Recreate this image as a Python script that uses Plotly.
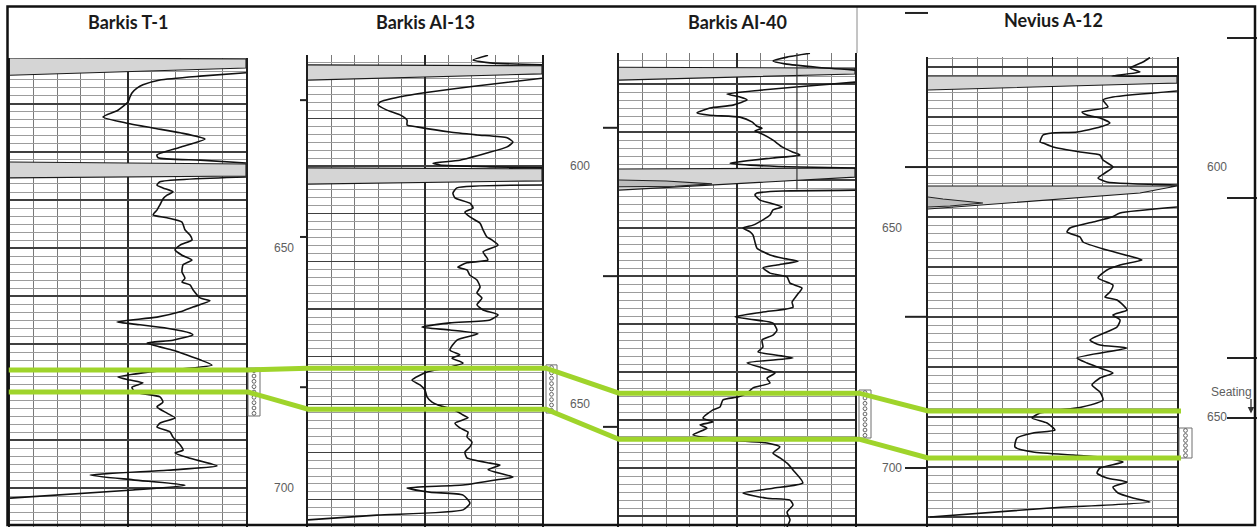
import plotly.graph_objects as go

W, H = 1257, 527

well_names = ["Barkis T-1", "Barkis AI-13", "Barkis AI-40", "Nevius A-12"]

# ---------------- Barkis T-1 (GR API, depth ft) ----------------
t1_gr_top = []
t1_depth_top = []
t1_gr_a = [150, 120.8, 95.3, 84.5, 80.7, 77.5, 76.3, 75.0, 68.6, 59.1,
           74.4, 90.9, 108.1, 123.9, 108.1, 93.4, 94.1, 120.8, 150]
t1_depth_a = [613.5, 614.2, 615.0, 616.0, 616.7, 617.7, 618.5, 619.6, 621.3, 622.7,
              624.0, 625.0, 626.0, 627.3, 629.0, 630.6, 631.2, 631.7, 632.3]
t1_gr_b = [150, 95.3, 93.4, 97.2, 103.6, 99.8, 97.2, 95.3, 93.4, 90.9,
           99.8, 109.3, 111.2, 114.4, 115.7, 108.1, 104.9, 109.3, 115.7, 110.0,
           109.3, 111.2, 109.3, 114.4, 116.3, 120.8, 127.1, 116.3, 108.1, 93.4,
           68.0, 82.6, 99.8, 114.4, 116.3, 103.6, 87.1, 95.3, 103.6, 112.5,
           120.8, 128.4, 89.0, 68.6, 76.3, 84.5, 77.5, 79.5, 95.3, 97.2,
           93.4, 99.8, 104.9, 95.3, 93.4, 101.7, 103.6, 108.1, 110.0, 104.9,
           114.4, 131.6, 99.8, 50.8, 78.2, 111.2, 78.2, 0]
t1_depth_b = [635.2, 636.2, 636.9, 637.5, 638.3, 639.0, 639.8, 641.0, 642.1, 643.1,
              643.7, 644.6, 646.2, 647.3, 648.3, 649.4, 650.4, 651.5, 652.5, 653.5,
              655.0, 656.3, 657.1, 657.7, 658.7, 660.4, 661.0, 662.3, 663.3, 664.4,
              665.4, 666.0, 666.7, 667.7, 668.1, 669.2, 669.8, 670.6, 671.3, 672.3,
              673.3, 674.4, 675.8, 676.9, 677.5, 678.1, 679.0, 680.0, 681.0, 682.1,
              683.1, 684.4, 685.4, 686.5, 687.3, 688.3, 689.4, 691.0, 692.1, 692.7,
              693.8, 695.4, 696.3, 697.3, 698.3, 699.4, 700.4, 702.1]
t1_band_gr = [0, 150, 150, 0, None, 0, 150, 150, 0]
t1_band_depth = [610.4, 610.6, 612.5, 614.0, None, 632.1, 632.5, 635.0, 635.4]
t1_spike_gr, t1_spike_depth = [], []
t1_depth_labels = [650, 700]
t1_depth_ticks = [619.2, 647.7, 679.0]

# ---------------- Barkis AI-13 ----------------
ai13_gr_top = [115.4, 105.8, 116.7, 150]
ai13_depth_top = [576.8, 577.8, 578.4, 578.8]
ai13_gr_a = [150, 103.8, 78.2, 59.0, 46.2, 44.9, 50.6, 59.0, 63.5, 63.5,
             69.9, 91.0, 108.3, 127.6, 131.4, 127.6, 114.7, 97.4, 80.1, 84.6,
             116.7, 150]
ai13_depth_a = [581.6, 583.4, 584.5, 585.5, 586.6, 587.2, 588.3, 589.3, 590.4, 591.4,
                591.8, 592.9, 593.5, 594.1, 595.0, 596.0, 597.3, 598.8, 599.4, 599.8,
                600.2, 600.4]
ai13_gr_b = [150, 95.5, 92.9, 94.2, 103.8, 105.8, 100.6, 103.8, 110.3, 112.2,
             114.7, 117.9, 121.8, 112.2, 115.4, 101.9, 96.1, 101.9, 103.8, 108.3,
             110.3, 108.3, 111.5, 108.3, 112.2, 121.8, 116.7, 91.0, 73.1, 91.0,
             109.0, 95.5, 91.0, 97.4, 92.3, 99.4, 87.8, 76.3, 66.7, 71.8,
             75.0, 76.3, 79.5, 83.3, 94.2, 99.4, 102.6, 94.2, 97.4, 102.6,
             101.9, 105.1, 103.8, 100.6, 101.9, 116.7, 123.1, 115.4, 131.4, 121.2,
             99.4, 63.5, 78.2, 99.4, 103.8, 99.4, 44.2, 0]
ai13_depth_b = [604.0, 604.6, 605.7, 606.7, 607.8, 608.8, 609.7, 610.7, 612.0, 613.4,
                614.9, 615.5, 616.6, 618.0, 619.7, 620.3, 621.2, 621.8, 622.9, 623.9,
                625.4, 626.6, 627.7, 629.1, 630.2, 631.2, 632.3, 632.9, 633.8, 634.4,
                635.2, 636.5, 638.6, 639.6, 640.3, 641.3, 642.4, 643.2, 644.9, 645.9,
                647.0, 648.4, 649.5, 650.1, 651.2, 652.2, 652.8, 653.9, 654.9, 655.8,
                656.8, 657.9, 658.9, 660.0, 661.2, 662.3, 662.7, 663.7, 665.2, 665.8,
                666.9, 667.5, 668.4, 669.0, 670.7, 672.1, 673.2, 674.2]
ai13_band_gr = [0, 150, 150, 0, None, 0, 150, 150, 0]
ai13_band_depth = [578.8, 579.0, 580.7, 582.0, None, 600.4, 600.6, 603.1, 603.8]
ai13_spike_gr, ai13_spike_depth = [], []
ai13_depth_labels = [600, 650]
ai13_depth_ticks = [592.0, 623.1, 654.7]

# ---------------- Barkis AI-40 ----------------
ai40_gr_top = [121.4, 106.8, 97.9, 105.5, 125.8, 150]
ai40_depth_top = [613.6, 614.4, 615.2, 615.8, 616.5, 617.1]
ai40_gr_a = [150, 127.8, 89.6, 68.6, 76.9, 81.4, 72.5, 57.8, 49.6, 57.8,
             76.9, 84.5, 87.7, 90.9, 86.4, 89.6, 97.9, 103.6, 110.6, 115.0,
             97.9, 70.6, 83.3, 115.0, 150]
ai40_depth_a = [619.6, 620.2, 621.3, 622.1, 622.7, 623.3, 624.4, 625.0, 626.0, 626.5,
                626.9, 627.9, 628.8, 629.2, 629.8, 630.2, 631.7, 633.1, 634.2, 634.8,
                635.4, 636.5, 636.9, 637.3, 637.5]
ai40_gr_b = [150, 104.2, 87.7, 86.4, 89.6, 96.0, 103.6, 97.9, 96.0, 91.5,
             85.2, 78.8, 83.3, 85.2, 86.4, 87.7, 96.0, 104.2, 113.8, 100.4,
             91.5, 96.0, 106.8, 108.7, 116.3, 113.1, 110.0, 110.6, 91.5, 73.7,
             83.3, 97.9, 100.4, 97.9, 90.9, 91.5, 88.3, 100.4, 110.6, 81.4,
             91.5, 99.2, 94.1, 96.0, 85.2, 81.4, 75.6, 66.1, 64.2, 59.7,
             53.4, 59.7, 51.5, 55.9, 47.0, 70.6, 94.1, 102.3, 97.9, 102.3,
             106.8, 110.6, 116.9, 97.9, 78.8, 94.1, 108.7, 110.6, 106.8, 108.7,
             106.8]
ai40_depth_b = [642.1, 642.3, 642.7, 643.1, 644.2, 644.8, 645.6, 646.2, 647.3, 648.3,
                649.4, 650.0, 650.8, 651.5, 652.9, 654.2, 655.6, 656.3, 656.9, 657.7,
                658.3, 659.4, 660.2, 661.5, 662.5, 664.0, 665.4, 666.5, 667.5, 668.5,
                669.0, 669.8, 671.3, 672.3, 673.3, 674.8, 675.8, 676.5, 677.1, 678.1,
                679.2, 680.2, 681.3, 682.3, 683.3, 684.4, 685.2, 685.8, 687.3, 687.9,
                689.6, 690.4, 691.0, 691.7, 693.1, 694.2, 694.8, 695.6, 696.9, 697.9,
                699.0, 700.4, 703.1, 704.2, 705.2, 706.3, 706.7, 707.7, 709.2, 710.8,
                712.3]
ai40_band_gr = [0, 150, 150, 0, None, 0, 150, 150, 0]
ai40_band_depth = [616.5, 616.7, 617.9, 619.2, None, 637.7, 637.5, 639.4, 642.1]
ai40_spike_gr = [0, 30.0, 59.1, 35.6, 0]
ai40_spike_depth = [640.0, 640.2, 640.8, 641.3, 641.4]
ai40_depth_labels = [650, 700]
ai40_depth_ticks = [605.2, 637.3, 668.5, 700.0]

# ---------------- Nevius A-12 ----------------
nev_gr_top = [133.7, 129.5, 121.7, 127.7, 110.8, 150]
nev_depth_top = [578.1, 579.0, 580.2, 581.0, 581.8, 581.8]
nev_gr_a = [150, 111.4, 105.4, 108.4, 92.8, 95.8, 103.6, 109.6, 103.6, 89.8,
            74.7, 69.3, 67.5, 69.3, 75.3, 91.6, 103.6, 105.4, 111.4, 106.6,
            102.4, 107.8, 150]
nev_depth_a = [584.8, 586.0, 586.6, 588.0, 589.0, 589.6, 590.2, 591.2, 592.0, 593.0,
               593.2, 593.6, 595.0, 595.2, 596.0, 597.0, 597.6, 598.6, 600.0, 601.2,
               602.2, 603.0, 603.6]
nev_gr_b = [150, 115.7, 110.8, 99.4, 85.5, 83.7, 91.6, 93.4, 107.8, 123.5,
            128.9, 115.7, 107.8, 102.4, 111.4, 109.6, 106.6, 113.9, 119.9, 111.4,
            115.7, 113.9, 97.6, 103.6, 119.9, 89.8, 95.8, 103.6, 111.4, 103.6,
            98.8, 103.6, 105.4, 92.8, 67.5, 62.7, 71.7, 76.5, 63.3, 53.6,
            52.4, 63.3, 87.3, 103.6, 117.5, 103.6, 101.8, 107.8, 119.9, 111.4,
            114.5, 123.5, 133.7, 73.5, 1.2]
nev_depth_b = [608.0, 609.2, 610.0, 611.0, 612.2, 613.0, 614.0, 615.0, 616.6, 618.0,
               618.6, 619.6, 620.6, 622.2, 623.6, 625.0, 626.0, 626.6, 628.6, 629.6,
               630.6, 632.0, 634.6, 635.6, 636.2, 638.2, 639.2, 640.2, 641.2, 642.2,
               643.6, 645.0, 646.6, 648.0, 649.2, 650.2, 651.2, 652.6, 653.2, 654.2,
               656.0, 657.0, 657.6, 658.0, 659.0, 660.2, 661.2, 662.2, 663.0, 664.0,
               665.2, 666.2, 667.0, 668.2, 670.0]
nev_band_gr = [0, 150, 150, 0, None, 0, 150, 127.7, 0]
nev_band_depth = [581.8, 581.8, 583.2, 584.6, None, 603.8, 603.8, 605.2, 608.4]
nev_spike_gr = [0, 9.0, 33.1, 13.3, 0]
nev_spike_depth = [606.0, 606.4, 607.2, 607.8, 608.0]
nev_depth_labels = [600, 650]
nev_depth_ticks = [574.2, 606.2, 638.2, 650.2]

# correlation tops (depth in each well) and perforated intervals
upper_top_depth = [675.4, 642.4, 684.4, 648.8]
lower_top_depth = [680.0, 651.0, 694.0, 658.2]
perf_top_depth = [675.0, 641.7, 683.75, 652.2]
perf_base_depth = [685.0, 651.8, 693.75, 658.2]

# ---------------- layout geometry (pixels) ----------------
track_px = [(10, 246), (308, 542), (619, 855), (928, 1177)]
track_top_px = [58, 55, 53, 57]
depth_range = [(610.42, 708.12), (576.74, 675.69), (613.54, 712.29), (578.0, 672.0)]
label_x_px = [284, 580, 892, 1217]
tick_x_px = [(300, 308), (603, 618), (905, 928), (1227, 1257)]
perf_x_px = [(248, 260), (546, 557), (859, 871), (1179, 1192)]
title_pos_px = [(128, 22), (425, 22), (737, 22), (1053, 20)]

wells = [
    dict(top=(t1_gr_top, t1_depth_top), a=(t1_gr_a, t1_depth_a), b=(t1_gr_b, t1_depth_b),
         band=(t1_band_gr, t1_band_depth), spike=(t1_spike_gr, t1_spike_depth),
         labels=t1_depth_labels, ticks=t1_depth_ticks),
    dict(top=(ai13_gr_top, ai13_depth_top), a=(ai13_gr_a, ai13_depth_a), b=(ai13_gr_b, ai13_depth_b),
         band=(ai13_band_gr, ai13_band_depth), spike=(ai13_spike_gr, ai13_spike_depth),
         labels=ai13_depth_labels, ticks=ai13_depth_ticks),
    dict(top=(ai40_gr_top, ai40_depth_top), a=(ai40_gr_a, ai40_depth_a), b=(ai40_gr_b, ai40_depth_b),
         band=(ai40_band_gr, ai40_band_depth), spike=(ai40_spike_gr, ai40_spike_depth),
         labels=ai40_depth_labels, ticks=ai40_depth_ticks),
    dict(top=(nev_gr_top, nev_depth_top), a=(nev_gr_a, nev_depth_a), b=(nev_gr_b, nev_depth_b),
         band=(nev_band_gr, nev_band_depth), spike=(nev_spike_gr, nev_spike_depth),
         labels=nev_depth_labels, ticks=nev_depth_ticks),
]


def xp(px):
    return px / W


def yp(k, d):
    dtop, dbot = depth_range[k]
    dom_top = 1 - track_top_px[k] / H
    return (dbot - d) / (dbot - dtop) * dom_top


def join(*segs):
    xs, ys = [], []
    for sx, sy in segs:
        if not sx:
            continue
        if xs:
            xs.append(None)
            ys.append(None)
        xs += list(sx)
        ys += list(sy)
    return xs, ys


fig = go.Figure()
layout_axes = {}
annotations = []
shapes = []

for k, w in enumerate(wells):
    sfx = "" if k == 0 else str(k + 1)
    xa, ya = "x" + sfx, "y" + sfx
    L, R = track_px[k]
    dtop, dbot = depth_range[k]

    fig.add_trace(go.Scatter(x=w["band"][0], y=w["band"][1], mode="lines", fill="toself",
                             fillcolor="#d5d5d5", line=dict(color="#1a1a1a", width=1.1),
                             xaxis=xa, yaxis=ya, showlegend=False, hoverinfo="skip"))
    cx, cy = join(w["top"], w["a"], w["b"])
    fig.add_trace(go.Scatter(x=cx, y=cy, mode="lines",
                             line=dict(color="#111111", width=1.6, shape="spline", smoothing=0.55),
                             xaxis=xa, yaxis=ya, showlegend=False, name=well_names[k]))
    if w["spike"][0]:
        fig.add_trace(go.Scatter(x=w["spike"][0], y=w["spike"][1], mode="lines",
                                 line=dict(color="#222222", width=1.1), fill="toself",
                                 fillcolor="#bdbdbd", xaxis=xa, yaxis=ya,
                                 showlegend=False, hoverinfo="skip"))

    layout_axes["xaxis" + sfx] = dict(
        domain=[L / W, R / W], range=[0, 150], anchor=ya, showticklabels=False, ticks="",
        zeroline=False, showline=False, fixedrange=True,
        showgrid=True, tick0=0, dtick=75, gridcolor="#2a2a2a", gridwidth=1.3,
        minor=dict(tick0=0, dtick=15, showgrid=True, gridcolor="#7a7a7a", gridwidth=1))
    layout_axes["yaxis" + sfx] = dict(
        domain=[0, 1 - track_top_px[k] / H], range=[dbot, dtop], anchor=xa,
        showticklabels=False, ticks="", zeroline=False, fixedrange=True,
        showline=True, mirror=True, linecolor="#1e1e1e", linewidth=1.6,
        showgrid=True, tick0=0, dtick=10, gridcolor="#404040", gridwidth=1.2,
        minor=dict(tick0=0, dtick=10 / 6, showgrid=True, gridcolor="#9c9c9c", gridwidth=1))

    # title
    tx, ty = title_pos_px[k]
    annotations.append(dict(x=xp(tx), y=1 - ty / H, xref="paper", yref="paper",
                            xanchor="center", yanchor="middle",
                            text="<b>" + well_names[k] + "</b>", showarrow=False,
                            font=dict(family="Lato", size=18, color="#1a1a1a")))
    # depth labels
    for d in w["labels"]:
        annotations.append(dict(x=xp(label_x_px[k]), y=d, xref="paper", yref=ya,
                                xanchor="center", yanchor="middle",
                                text=str(d), showarrow=False,
                                font=dict(family="Liberation Sans", size=12, color="#5e5e5e")))
    # depth ticks
    t0, t1 = tick_x_px[k]
    for d in w["ticks"]:
        yy = yp(k, d)
        shapes.append(dict(type="line", xref="paper", yref="paper", x0=xp(t0), x1=xp(t1),
                           y0=yy, y1=yy, line=dict(color="#222222", width=2)))
    # perforation box
    p0, p1 = perf_x_px[k]
    ytop, ybot = yp(k, perf_top_depth[k]), yp(k, perf_base_depth[k])
    shapes.append(dict(type="rect", xref="paper", yref="paper", x0=xp(p0), x1=xp(p1),
                       y0=ybot, y1=ytop, line=dict(color="#6e6e6e", width=1),
                       fillcolor="white", layer="above"))
    hpx = (ytop - ybot) * H
    n = max(1, int(round(hpx / 5.4)))
    cxp = (p0 + p1) / 2
    for i in range(n):
        cyp = ytop - (i + 0.5) * (ytop - ybot) / n
        shapes.append(dict(type="circle", xref="paper", yref="paper",
                           x0=xp(cxp - 1.9), x1=xp(cxp + 1.9),
                           y0=cyp - 1.9 / H, y1=cyp + 1.9 / H,
                           line=dict(color="#555555", width=0.9), layer="above"))

# extra scale line in AI-40 track
shapes.append(dict(type="line", xref="x3", yref="y3", x0=113.1, x1=113.1, y0=613.54, y1=642.0,
                   line=dict(color="#333333", width=1.2)))


def corr_path(tops):
    pts = []
    for k in range(4):
        L, R = track_px[k]
        y = yp(k, tops[k])
        pts.append((xp(L - (2 if k == 0 else 0)), y))
        pts.append((xp(R + (2 if k == 0 else 4)), y))
    return "M " + " L ".join(f"{x:.5f},{y:.5f}" for x, y in pts)


for tops in (upper_top_depth, lower_top_depth):
    shapes.append(dict(type="path", xref="paper", yref="paper", path=corr_path(tops),
                       line=dict(color="#9fd42b", width=5), layer="above"))

# "Seating" marker at right
annotations.append(dict(x=xp(1231), y=645.0, xref="paper", yref="y4", text="Seating",
                        xanchor="center", yanchor="middle",
                        showarrow=False, font=dict(family="Liberation Sans", size=12, color="#5e5e5e")))
annotations.append(dict(x=xp(1251), y=649.3, xref="paper", yref="y4", text="",
                        showarrow=True, arrowhead=2, arrowsize=1, arrowwidth=1.3,
                        arrowcolor="#333333", ax=0, ay=-16))

# separator line and outer frame
shapes.append(dict(type="line", xref="paper", yref="paper", x0=xp(857), x1=xp(857),
                   y0=1 - 53 / H, y1=1 - 6 / H, line=dict(color="#8a8a8a", width=1)))
shapes.append(dict(type="rect", xref="paper", yref="paper", x0=xp(7.5), x1=xp(1255),
                   y0=1 - 525 / H, y1=1 - 6.5 / H, line=dict(color="#111111", width=2.5),
                   layer="above"))

fig.update_layout(
    width=W, height=H, margin=dict(l=0, r=0, t=0, b=0),
    paper_bgcolor="white", plot_bgcolor="white", showlegend=False,
    annotations=annotations, shapes=shapes, hovermode=False,
    **layout_axes)

fig.write_html("out.html", config={"displayModeBar": False, "staticPlot": True},
               post_script="document.body.style.margin='0';document.body.style.overflow='hidden';")
